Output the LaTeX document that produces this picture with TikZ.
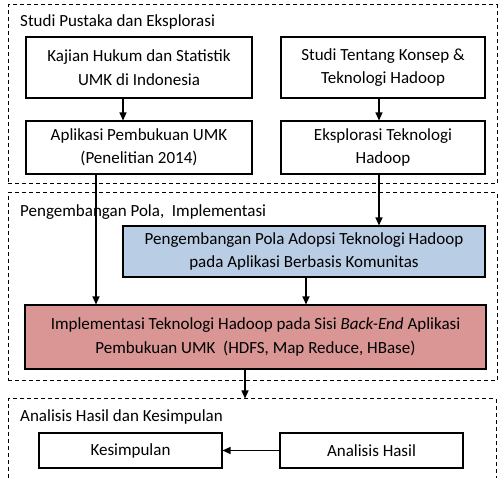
\documentclass[tikz,border=0pt]{standalone}
\usepackage{fontspec}
\setmainfont{Carlito}
\usetikzlibrary{arrows.meta}
\definecolor{boxblue}{RGB}{185,205,229}
\definecolor{boxred}{RGB}{217,150,148}
\begin{document}
\begin{tikzpicture}[x=1pt,y=-1pt,
  txt/.style={font=\fontsize{17}{23.5}\selectfont},
  group/.style={draw, dashed, dash pattern=on 4pt off 3pt, line width=1pt, inner sep=0pt},
  stepbox/.style={draw, line width=1.1pt, inner sep=0pt, align=center, txt},
  arr/.style={line width=1.2pt, -{Triangle[length=8pt,width=7pt]}},
  lbl/.style={anchor=base west, inner sep=0pt, txt}
]
\useasboundingbox (0,0) rectangle (499,478);
% group boxes
\node[group, minimum width=489pt, minimum height=179pt] (g1) at (252.5,94.5) {};
\node[group, minimum width=489pt, minimum height=188pt] (g2) at (252.5,287) {};
\node[group, minimum width=488pt, minimum height=90pt] (g3) at (252,444) {};
% group labels
\node[lbl] (l1) at (20,27) {Studi Pustaka dan Eksplorasi};
\node[lbl] (l2) at (20,217) {Pengembangan Pola,~ Implementasi};
\node[lbl] (l3) at (20,422) {Analisis Hasil dan Kesimpulan};
% boxes
\node[stepbox, minimum width=226pt, minimum height=61pt] (kajian) at (139,67.5) {Kajian Hukum dan Statistik\\UMK di Indonesia};
\node[stepbox, minimum width=204pt, minimum height=61pt] (studi) at (383,67.5) {Studi Tentang Konsep \&\\Teknologi Hadoop};
\node[stepbox, minimum width=226pt, minimum height=53pt] (aplikasi) at (139,147.5) {Aplikasi Pembukuan UMK\\(Penelitian 2014)};
\node[stepbox, minimum width=204pt, minimum height=53pt] (eksplorasi) at (383,147.5) {Eksplorasi Teknologi\\Hadoop};
\node[stepbox, fill=boxblue, minimum width=362pt, minimum height=51pt] (pola) at (304,251.5) {Pengembangan Pola Adopsi Teknologi Hadoop\\pada Aplikasi Berbasis Komunitas};
\node[stepbox, fill=boxred, minimum width=461pt, minimum height=64pt] (impl) at (255.5,337) {Implementasi Teknologi Hadoop pada Sisi \textit{Back-End} Aplikasi\\Pembukuan UMK~ (HDFS, Map Reduce, HBase)};
\node[stepbox, minimum width=183pt, minimum height=35pt] (kesimpulan) at (130.5,450.5) {Kesimpulan};
\node[stepbox, minimum width=183pt, minimum height=35pt] (analisis) at (371.5,450.5) {Analisis Hasil};
% arrows
\draw[arr] (kajian.south -| 123,0) -- (aplikasi.north -| 123,0);
\draw[arr] (studi.south -| 379,0) -- (eksplorasi.north -| 379,0);
\draw[arr] (aplikasi.south -| 96,0) -- (impl.north -| 96,0);
\draw[arr] (eksplorasi.south -| 379,0) -- (pola.north -| 379,0);
\draw[arr] (pola.south -| 306,0) -- (impl.north -| 306,0);
\draw[arr] (impl.south -| 245,0) -- (g3.north -| 245,0);
\draw[arr] (analisis.west) -- (kesimpulan.east);
\end{tikzpicture}
\end{document}
